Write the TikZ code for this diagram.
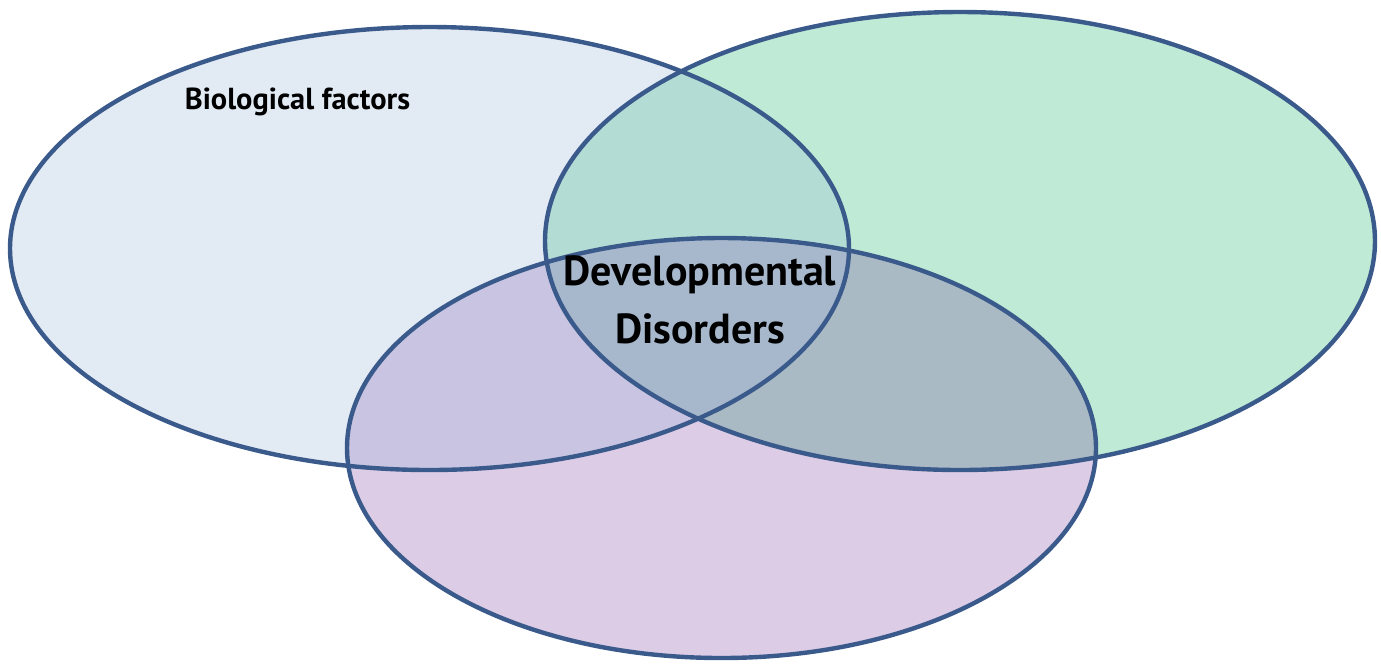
\documentclass[tikz,border=0pt]{standalone}
\usepackage{fontspec}
\setmainfont{PT Sans}
\begin{document}
\begin{tikzpicture}[x=0.5pt,y=-0.5pt,
  ring/.style={draw=ringblue,line width=2.2pt},
  labeltext/.style={font=\bfseries\fontsize{15.2}{18}\selectfont,anchor=center,inner sep=0pt},
  centertext/.style={font=\fontsize{21}{29}\selectfont\bfseries,align=center,inner sep=0pt}]
\definecolor{ringblue}{HTML}{3B5A8C}
\definecolor{fillL}{HTML}{E2EAF4}
\definecolor{fillR}{HTML}{BFEAD5}
\definecolor{fillB}{HTML}{DCCCE6}
\definecolor{fillLR}{HTML}{B3DCD5}
\definecolor{fillLB}{HTML}{C8C4E2}
\definecolor{fillRB}{HTML}{AABAC4}
\definecolor{fillLRB}{HTML}{A7B8CC}
\useasboundingbox (0,0) rectangle (1381,666);
% ellipse outlines, reused for fills and clips
\def\ellL{(429.5,248.5) ellipse [x radius=419.5, y radius=221.5]}
\def\ellR{(960,241) ellipse [x radius=415, y radius=229]}
\def\ellB{(721.5,448) ellipse [x radius=374.5, y radius=210]}
% single regions
\fill[fillL] \ellL;
\fill[fillR] \ellR;
\fill[fillB] \ellB;
% pairwise overlaps
\begin{scope}\clip \ellL; \fill[fillLR] \ellR; \end{scope}
\begin{scope}\clip \ellL; \fill[fillLB] \ellB; \end{scope}
\begin{scope}\clip \ellR; \fill[fillRB] \ellB; \end{scope}
% triple overlap
\begin{scope}\clip \ellL; \clip \ellR; \fill[fillLRB] \ellB; \end{scope}
% outlines
\draw[ring] \ellL;
\draw[ring] \ellR;
\draw[ring] \ellB;
\node[labeltext] (bio) at (297.5,102) {Biological factors};
\node[centertext] (dd) at (700,300) {Developmental\\Disorders};
\end{tikzpicture}
\end{document}
